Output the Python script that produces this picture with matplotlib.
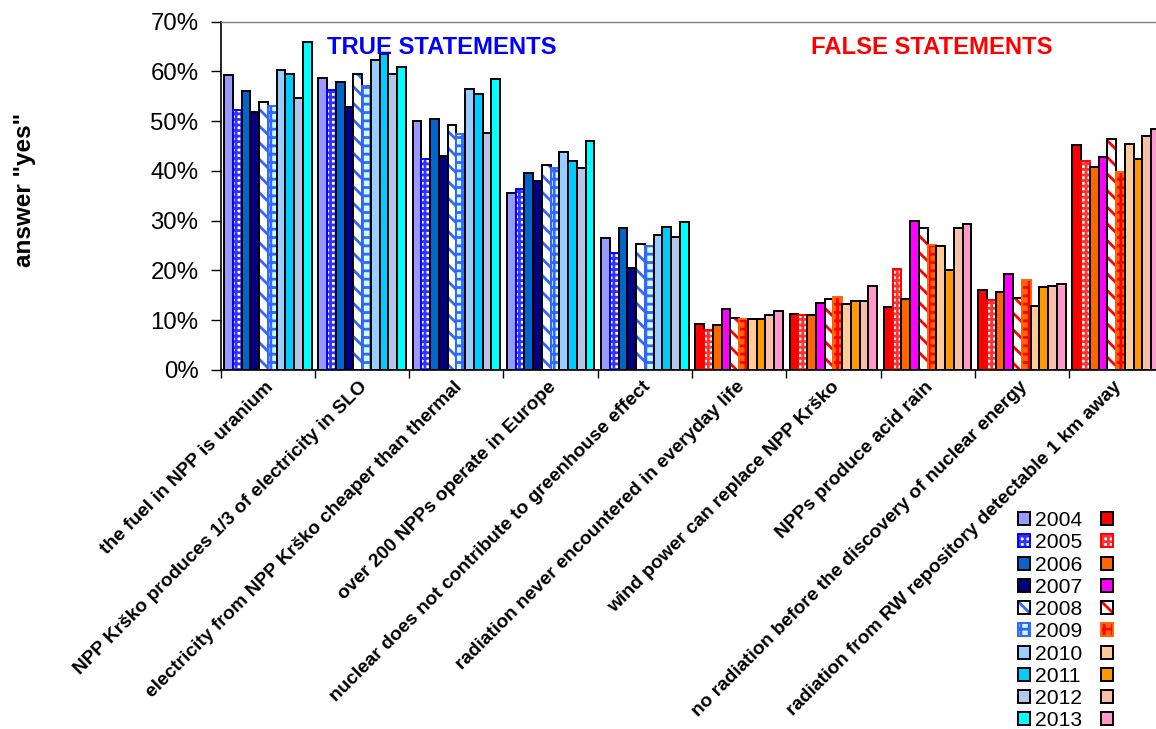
import matplotlib
matplotlib.use("Agg")
import matplotlib.pyplot as plt
import matplotlib.transforms as mtransforms
import numpy as np

plt.rcParams["font.family"] = ["Liberation Sans", "DejaVu Sans"]
plt.rcParams["hatch.linewidth"] = 2.0

statements = [
    "the fuel in NPP is uranium",
    "NPP Krško produces 1/3 of electricity in SLO",
    "electricity from NPP Krško cheaper than thermal",
    "over 200 NPPs operate in Europe",
    "nuclear does not contribute to greenhouse effect",
    "radiation never encountered in everyday life",
    "wind power can replace NPP Krško",
    "NPPs produce acid rain",
    "no radiation before the discovery of nuclear energy",
    "radiation from RW repository detectable 1 km away",
]
years = ["2004", "2005", "2006", "2007", "2008", "2009", "2010", "2011", "2012", "2013"]

# share of "yes" answers (%) per statement, one list per survey year
yes_2004 = [59.3, 58.7, 50.1, 35.5, 26.6, 9.2, 11.3, 12.7, 16.1, 45.3]
yes_2005 = [52.3, 56.3, 42.5, 36.3, 23.6, 8.0, 11.0, 20.2, 14.1, 42.1]
yes_2006 = [56.1, 57.9, 50.4, 39.5, 28.5, 9.1, 11.1, 14.3, 15.6, 40.8]
yes_2007 = [51.9, 52.9, 43.0, 38.0, 20.6, 12.3, 13.4, 29.9, 19.2, 42.9]
yes_2008 = [53.9, 59.4, 49.2, 41.2, 25.4, 10.4, 14.3, 28.5, 14.5, 46.5]
yes_2009 = [53.1, 57.0, 47.4, 40.5, 24.9, 10.3, 14.7, 25.2, 18.1, 39.8]
yes_2010 = [60.2, 62.4, 56.5, 43.8, 27.1, 10.2, 13.2, 24.9, 12.8, 45.5]
yes_2011 = [59.5, 63.5, 55.5, 42.1, 28.8, 10.2, 13.9, 20.0, 16.6, 42.4]
yes_2012 = [54.6, 59.4, 47.6, 40.6, 26.8, 11.1, 13.8, 28.5, 16.8, 47.0]
yes_2013 = [65.9, 60.8, 58.5, 46.0, 29.7, 11.9, 16.9, 29.3, 17.3, 48.5]
series = [yes_2004, yes_2005, yes_2006, yes_2007, yes_2008,
          yes_2009, yes_2010, yes_2011, yes_2012, yes_2013]

n_true = 5  # first five statements are true, the rest false

# (face, hatch, hatch colour, border colour) per year
blue_styles = [
    ("#9999FF", None, None, "black"),
    ("#FFFFFF", "+++", "#3333FF", "#0000FF"),
    ("#0066CC", None, None, "black"),
    ("#000080", None, None, "black"),
    ("#FFFFFF", "\\\\", "#3366FF", "black"),
    ("#CCFFFF", "++", "#3366FF", "#3366FF"),
    ("#99CCFF", None, None, "black"),
    ("#00CCFF", None, None, "black"),
    ("#B4C7E7", None, None, "black"),
    ("#00FFFF", None, None, "black"),
]
red_styles = [
    ("#FF0000", None, None, "black"),
    ("#FFFFFF", "+++", "#FF3333", "#FF0000"),
    ("#FF6600", None, None, "black"),
    ("#FF00FF", None, None, "black"),
    ("#FFFFFF", "\\\\", "#FF0000", "black"),
    ("#FF6600", "++", "#FF0000", "#FF6600"),
    ("#FFCC99", None, None, "black"),
    ("#FF9900", None, None, "black"),
    ("#F4C0A8", None, None, "black"),
    ("#FF99CC", None, None, "black"),
]


def draw_series(ax, x, vals, style):
    face, hatch, hcol, edge = style
    if hatch is None:
        return ax.bar(x, vals, width=bar_w, color=face, edgecolor=edge,
                      linewidth=1.4, align="edge")
    # hatch takes its colour from the edge, so the border goes on top
    under = ax.bar(x, vals, width=bar_w, color=face, edgecolor=hcol,
                   hatch=hatch, linewidth=0, align="edge")
    over = ax.bar(x, vals, width=bar_w, fill=False, edgecolor=edge,
                  linewidth=1.4, align="edge")
    return (under, over)


fig = plt.figure(figsize=(11.56, 7.29), dpi=100)
ax = fig.add_axes([220.7 / 1156, 1 - 370 / 729, 942.6 / 1156, 348.3 / 729])

bar_w = 0.0928
groups = np.arange(len(statements))
start = groups - 5 * bar_w

blue_handles, red_handles = [], []
for k, vals in enumerate(series):
    vals = np.array(vals)
    xs = start + k * bar_w
    blue_handles.append(draw_series(ax, xs[:n_true], vals[:n_true], blue_styles[k]))
    red_handles.append(draw_series(ax, xs[n_true:], vals[n_true:], red_styles[k]))

ax.set_xlim(-0.5, len(statements) - 0.5)
ax.set_ylim(0, 70)
ax.set_yticks(np.arange(0, 71, 10))
ax.set_yticklabels([f"{v}%" for v in range(0, 71, 10)], fontsize=17.3)
ax.tick_params(axis="y", direction="out", length=7, width=1, pad=9)

ax.set_xticks(groups)
ax.set_xticks(np.arange(-0.5, len(statements)), minor=True)
ax.tick_params(axis="x", which="major", length=0, pad=6)
ax.tick_params(axis="x", which="minor", direction="out", length=6, width=1)
ax.set_xticklabels(statements, rotation=45, ha="right", va="top",
                   rotation_mode="anchor", fontsize=13.8, fontweight="bold")
nudge = mtransforms.ScaledTranslation(-3 / 100, 0, fig.dpi_scale_trans)
for lbl in ax.get_xticklabels():
    lbl.set_transform(lbl.get_transform() + nudge)

for side in ("left", "bottom"):
    ax.spines[side].set_color("black")
    ax.spines[side].set_linewidth(1.2)
for side in ("top", "right"):
    ax.spines[side].set_color("#808080")
    ax.spines[side].set_linewidth(1)

fig.text(25 / 1156, 1 - 190 / 729, 'answer "yes"', rotation=90, fontsize=17.5,
         fontweight="bold", ha="center", va="center")
fig.text(442 / 1156, 1 - 48 / 729, "TRUE STATEMENTS", color="#0000FF",
         fontsize=17.2, fontweight="bold", ha="center", va="center")
fig.text(932 / 1156, 1 - 48 / 729, "FALSE STATEMENTS", color="#FF0000",
         fontsize=17.2, fontweight="bold", ha="center", va="center")

leg = fig.legend(blue_handles + red_handles, years + [""] * len(years),
                 ncol=2, loc="upper left",
                 bbox_to_anchor=(1018 / 1156, 1 - 511 / 729),
                 frameon=False, fontsize=15.2, handlelength=0.57,
                 handleheight=0.57, handletextpad=0.24, labelspacing=0.155,
                 columnspacing=0.88, borderpad=0, borderaxespad=0)

fig.savefig("out.png", dpi=100)
